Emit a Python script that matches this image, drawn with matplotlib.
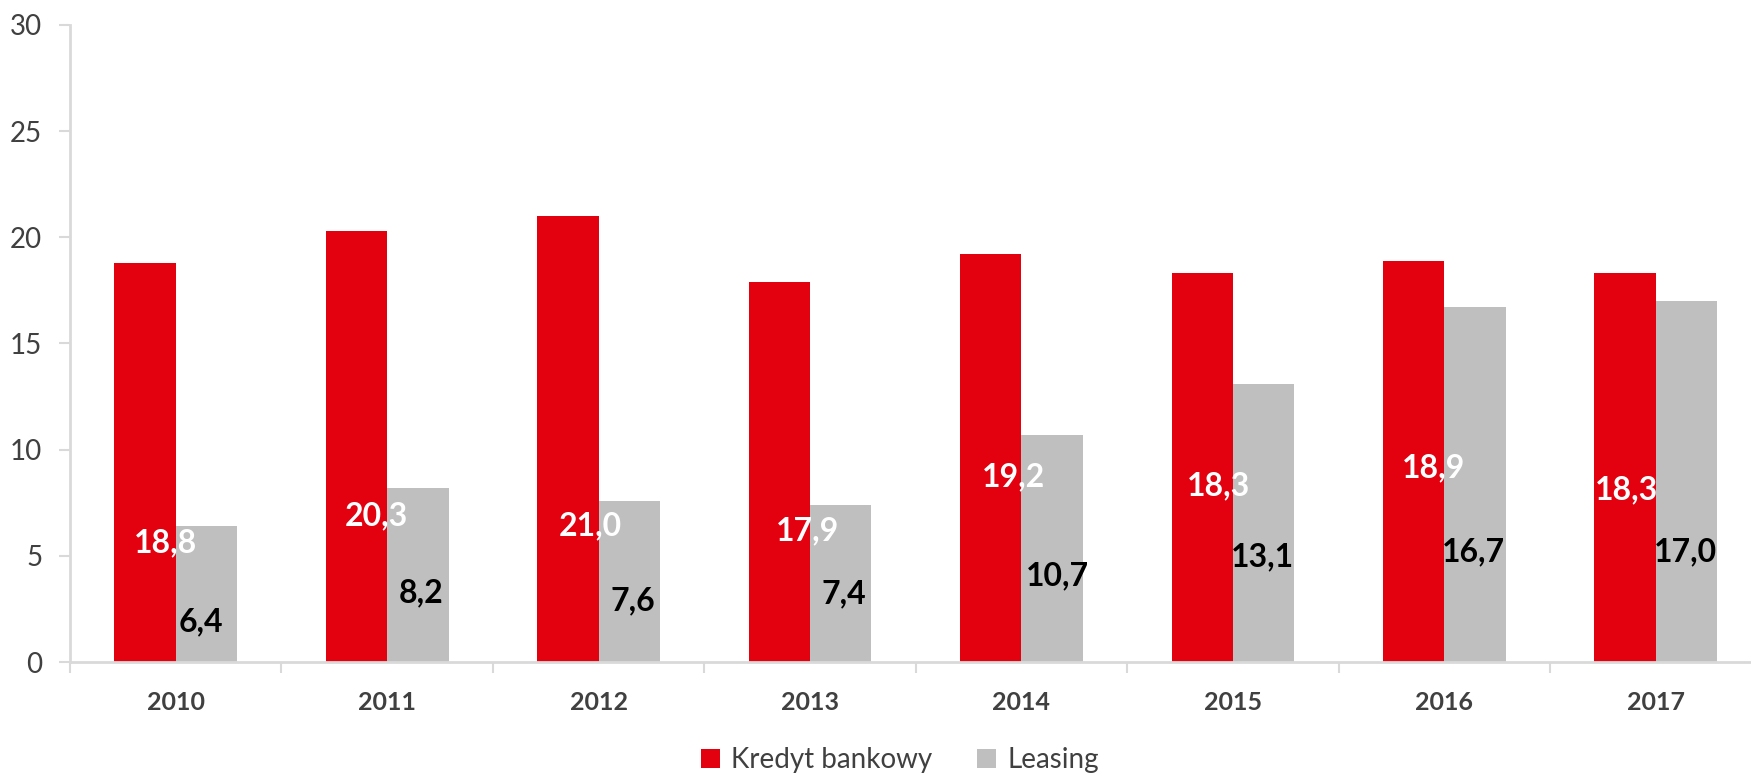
import matplotlib.pyplot as plt
import numpy as np

# dane
lata = ["2010", "2011", "2012", "2013", "2014", "2015", "2016", "2017"]
kredyt = [18.8, 20.3, 21.0, 17.9, 19.2, 18.3, 18.9, 18.3]
leasing = [6.4, 8.2, 7.6, 7.4, 10.7, 13.1, 16.7, 17.0]

# polozenie etykiet (jak w oryginale, recznie przesuniete)
kredyt_lab_y = [5.6, 6.9, 6.4, 6.2, 8.7, 8.3, 9.15, 8.1]
kredyt_lab_dx = [-0.05, -0.05, -0.04, -0.01, -0.04, -0.07, -0.05, -0.14]
leasing_lab_y = [1.9, 3.25, 2.9, 3.2, 4.05, 4.95, 5.2, 5.2]
leasing_lab_dx = [0.12, 0.16, 0.16, 0.16, 0.17, 0.14, 0.14, 0.14]

czerwony = "#E3000F"
szary = "#BFBFBF"
os_kolor = "#D9D9D9"
tekst = "#404040"

plt.rcParams['font.family'] = ['Lato', 'DejaVu Sans']

fig = plt.figure(figsize=(17.51, 7.76), dpi=100)
ax = fig.add_axes([0.040, 0.1469, 0.966, 0.8209])

x = np.arange(len(lata))
w = 0.29
ax.bar(x - w/2, kredyt, w, color=czerwony, label="Kredyt bankowy")
ax.bar(x + w/2, leasing, w, color=szary, label="Leasing")

def fmt(v):
    return ("%.1f" % v).replace(".", ",")

for i in range(len(lata)):
    ax.text(x[i] + kredyt_lab_dx[i], kredyt_lab_y[i], fmt(kredyt[i]), color="white",
            fontsize=23, fontweight="bold", ha="center", va="center")
    ax.text(x[i] + leasing_lab_dx[i], leasing_lab_y[i], fmt(leasing[i]), color="black",
            fontsize=23, fontweight="bold", ha="center", va="center")

ax.set_xlim(-0.5, len(lata) - 0.5)
ax.set_ylim(0, 30)
ax.set_yticks([0, 5, 10, 15, 20, 25, 30])

ax.set_xticks(x)
ax.set_xticklabels(lata, fontsize=18, fontweight="bold", color=tekst)
ax.set_xticks(np.arange(len(lata) + 1) - 0.5, minor=True)
ax.tick_params(axis="x", which="major", length=0, pad=21)
ax.tick_params(axis="x", which="minor", length=8, width=1.5, color=os_kolor)
ax.tick_params(axis="y", length=8, width=1.5, color=os_kolor, labelsize=20,
               labelcolor=tekst, pad=12)

for s in ["top", "right"]:
    ax.spines[s].set_visible(False)
for s in ["left", "bottom"]:
    ax.spines[s].set_color(os_kolor)
    ax.spines[s].set_linewidth(2)

leg = fig.legend(loc="center", bbox_to_anchor=(900/1751, 1 - 760/776), ncol=2,
                 frameon=False, fontsize=20, handlelength=0.7, handleheight=0.7,
                 handletextpad=0.4, columnspacing=1.6)
for t in leg.get_texts():
    t.set_color(tekst)

fig.savefig("out.png", dpi=100)
